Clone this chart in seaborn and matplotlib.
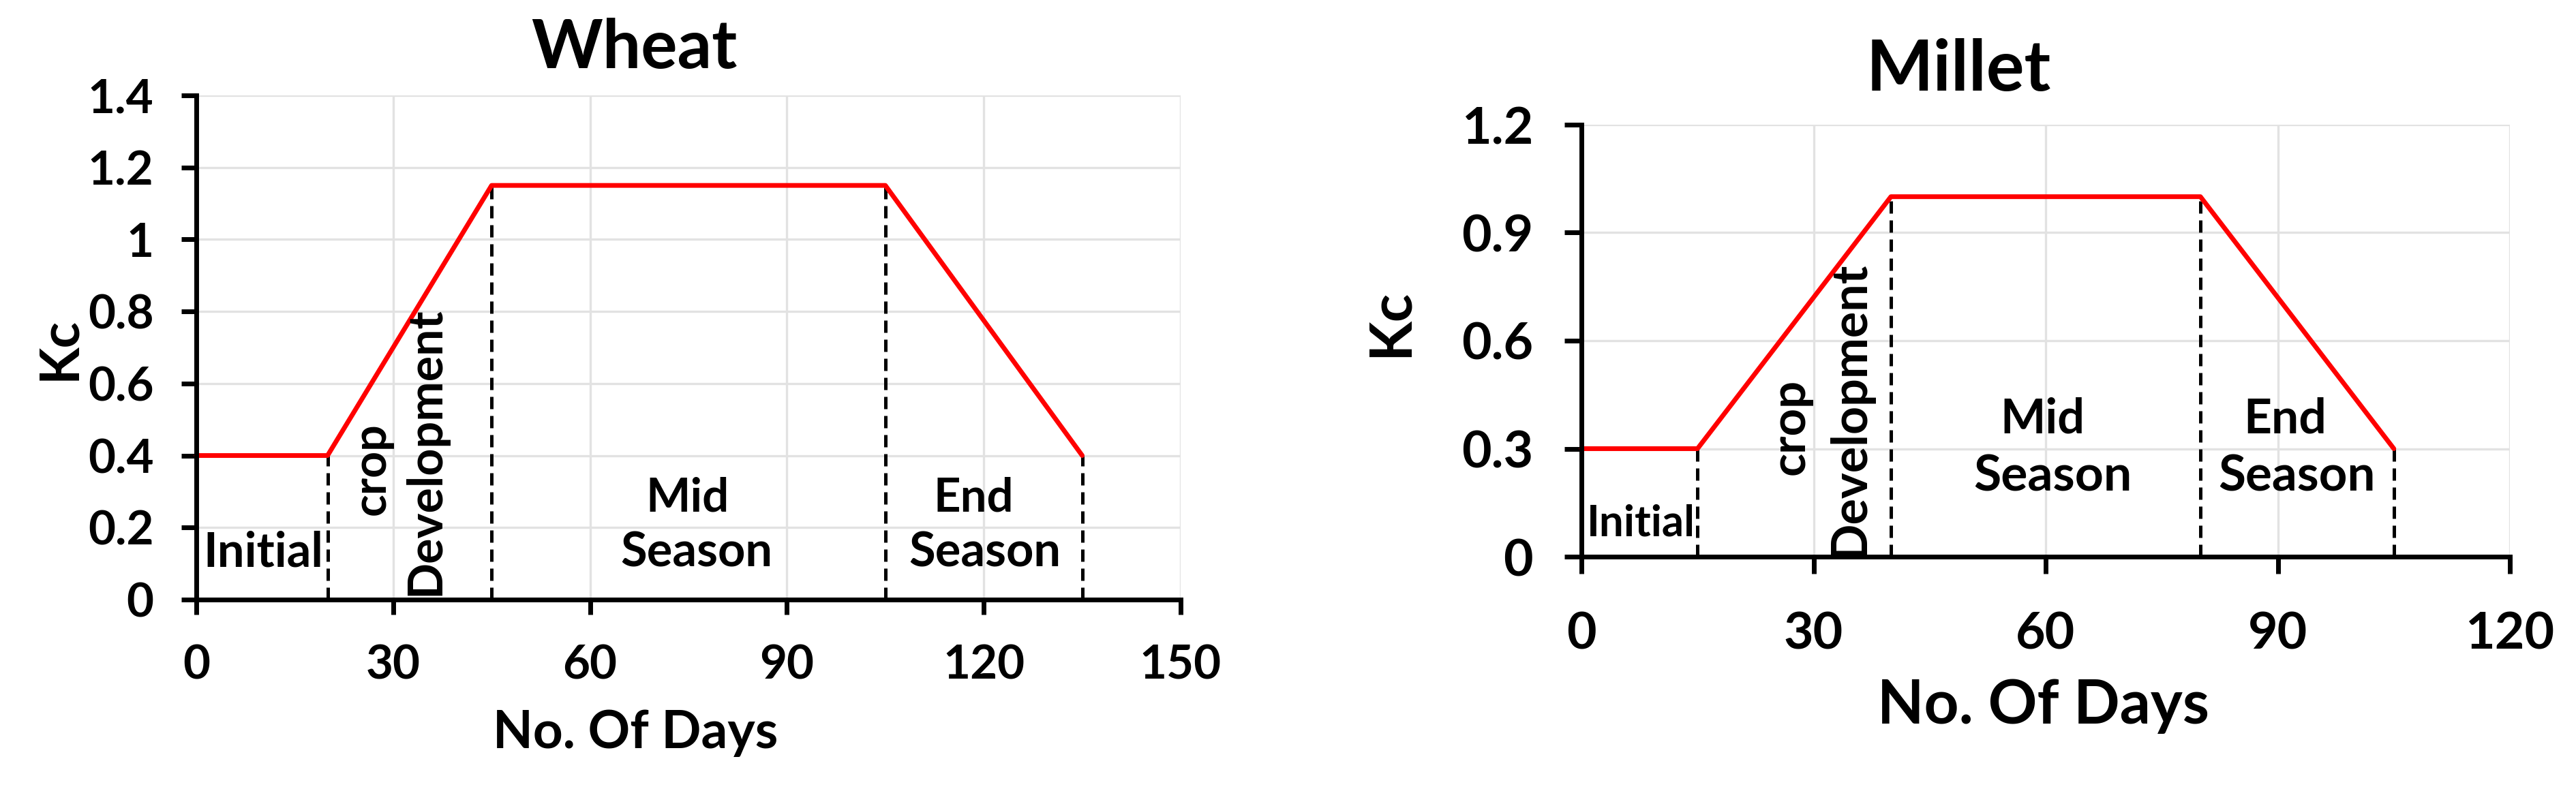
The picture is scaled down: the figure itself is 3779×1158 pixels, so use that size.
import matplotlib
matplotlib.use("Agg")
import matplotlib.pyplot as plt
import seaborn as sns

# ---------------- data ----------------
wheat_days = [0, 20, 45, 105, 135]
wheat_kc = [0.4, 0.4, 1.15, 1.15, 0.4]
millet_days = [0, 15, 40, 80, 105]
millet_kc = [0.3, 0.3, 1.0, 1.0, 0.3]

wheat_xticks = [0, 30, 60, 90, 120, 150]
wheat_xlabels = ["0", "30", "60", "90", "120", "150"]
wheat_yticks = [0, 0.2, 0.4, 0.6, 0.8, 1.0, 1.2, 1.4]
wheat_ylabels = ["0", "0.2", "0.4", "0.6", "0.8", "1", "1.2", "1.4"]

millet_xticks = [0, 30, 60, 90, 120]
millet_xlabels = ["0", "30", "60", "90", "120"]
millet_yticks = [0, 0.3, 0.6, 0.9, 1.2]
millet_ylabels = ["0", "0.3", "0.6", "0.9", "1.2"]

titles = ["Wheat", "Millet"]
x_label = "No. Of Days"
y_label = "Kc"
stage_labels = ["Initial", "crop", "Development", "Mid", "Season", "End", "Season"]

# ---------------- style ----------------
sns.set_theme(style="white", rc={
    "axes.edgecolor": "black", "text.color": "black", "axes.labelcolor": "black",
    "xtick.color": "black", "ytick.color": "black",
})
plt.rcParams["font.family"] = ["Lato", "DejaVu Sans"]
plt.rcParams["font.weight"] = "bold"

W, H, DPI = 3779, 1158, 100
SCALE = 1.06  # compensate for the taller glyphs of the original face
fig = plt.figure(figsize=(W / DPI, H / DPI), dpi=DPI)
fig.patch.set_facecolor("white")
renderer = fig.canvas.get_renderer()


def make_axes(l, t, r, b):
    return fig.add_axes([l / W, 1 - b / H, (r - l) / W, (b - t) / H])


def fit(t, target, along="w"):
    bb = t.get_window_extent(renderer)
    cur = bb.width if along == "w" else bb.height
    t.set_fontsize(t.get_fontsize() * SCALE * target / cur)
    return t


def size_for(s, target):
    t = fig.text(0, 0, s, fontsize=10, fontweight="bold")
    w = t.get_window_extent(renderer).width
    t.remove()
    return 10 * SCALE * target / w


def panel(ax, days, kc, xticks, xlabels, yticks, ylabels, tick_fs, xpad, ypad,
          ticklen):
    sns.lineplot(x=days, y=kc, ax=ax, color="#ff0000", lw=5, sort=False,
                 zorder=3, clip_on=False)
    ax.vlines(days[1:], 0, kc[1:], colors="black", linestyles=(0, (3.6, 2.0)),
              lw=3.6, zorder=2)
    ax.set_xlim(xticks[0], xticks[-1])
    ax.set_ylim(yticks[0], yticks[-1])
    ax.set_xticks(xticks)
    ax.set_xticklabels(xlabels)
    ax.set_yticks(yticks)
    ax.set_yticklabels(ylabels)
    ax.grid(True, color="#e2e2e2", lw=2.4)
    ax.set_axisbelow(True)
    for s in ["top", "right"]:
        ax.spines[s].set_visible(False)
    for s in ["left", "bottom"]:
        ax.spines[s].set_linewidth(5)
        ax.spines[s].set_color("black")
        ax.spines[s].set_zorder(4)
    ax.tick_params(axis="both", direction="out", length=ticklen, width=5,
                   color="black", labelsize=tick_fs, bottom=True, left=True)
    ax.tick_params(axis="x", pad=xpad)
    ax.tick_params(axis="y", pad=ypad)
    for lbl in ax.get_xticklabels() + ax.get_yticklabels():
        lbl.set_fontweight("bold")
    ax.set_xlabel("")
    ax.set_ylabel("")


# ---------------- Wheat ----------------
axW = make_axes(288, 140, 1732, 880)
panel(axW, wheat_days, wheat_kc, wheat_xticks, wheat_xlabels, wheat_yticks,
      wheat_ylabels, size_for("150", 113), 31, 29, 16)

# ---------------- Millet ----------------
axM = make_axes(2320, 183, 3682, 817)
panel(axM, millet_days, millet_kc, millet_xticks, millet_xlabels,
      millet_yticks, millet_ylabels, size_for("120", 124), 39, 33, 18)

# ---------------- titles & axis labels ----------------
t = fig.text(930 / W, 1 - 100 / H, titles[0], ha="center", va="baseline",
             fontsize=60, fontweight="bold")
fit(t, 285)
t = fig.text(2873 / W, 1 - 133 / H, titles[1], ha="center", va="baseline",
             fontsize=60, fontweight="bold")
fit(t, 256)

t = fig.text(932 / W, 1 - 1098 / H, x_label, ha="center", va="baseline",
             fontsize=50, fontweight="bold")
fit(t, 395)
t = fig.text(2998 / W, 1 - 1062 / H, x_label, ha="center", va="baseline",
             fontsize=50, fontweight="bold")
fit(t, 460)

t = fig.text(110 / W, 1 - 512 / H, y_label, rotation=90, rotation_mode="anchor",
             ha="center", va="baseline", fontsize=50, fontweight="bold")
fit(t, 88, "h")
t = fig.text(2065 / W, 1 - 474 / H, y_label, rotation=90,
             rotation_mode="anchor", ha="center", va="baseline", fontsize=50,
             fontweight="bold")
fit(t, 95, "h")

# ---------------- stage annotations ----------------
# (x, y, rotation, target length in px) per stage label, per panel
wheat_layout = [(10.2, 0.091, 0, 166), (28.7, 0.363, 90, 128),
                (37.0, 0.412, 90, 400), (74.8, 0.245, 0, 115),
                (76.2, 0.091, 0, 210), (118.5, 0.245, 0, 111),
                (120.2, 0.091, 0, 210)]
millet_layout = [(7.7, 0.057, 0, 150), (28.8, 0.361, 90, 133),
                 (36.5, 0.41, 90, 410), (59.6, 0.344, 0, 117),
                 (60.9, 0.1825, 0, 219), (90.9, 0.344, 0, 115),
                 (92.5, 0.1825, 0, 217)]

for ax, layout in [(axW, wheat_layout), (axM, millet_layout)]:
    for label, (x, y, rot, target) in zip(stage_labels, layout):
        t = ax.text(x, y, label, rotation=rot, rotation_mode="anchor",
                    ha="center", va="baseline", fontsize=40,
                    fontweight="bold", zorder=5)
        fit(t, target, "h" if rot else "w")

fig.savefig("out.png", dpi=DPI, facecolor="white")
